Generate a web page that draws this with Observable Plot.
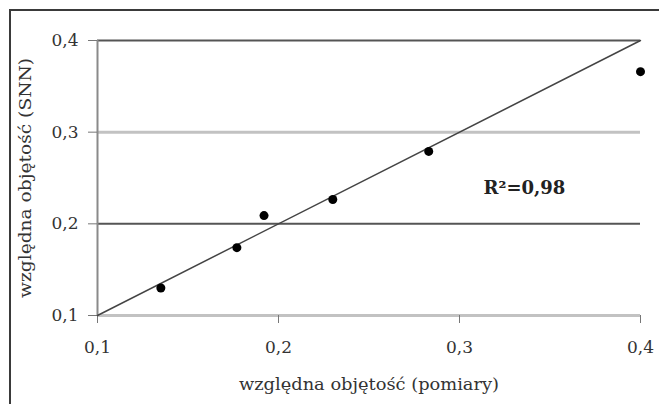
<!DOCTYPE html>
<html>
<head>
<meta charset="utf-8">
<script src="https://cdn.jsdelivr.net/npm/d3@7"></script>
<script src="https://cdn.jsdelivr.net/npm/@observablehq/plot@0.6"></script>
<style>
  html, body { margin: 0; padding: 0; background: #fff; overflow: hidden; }
  #wrap { position: relative; width: 659px; height: 404px; overflow: hidden; }
  #border { position: absolute; left: 9px; top: 9px; width: 700px; height: 500px; border: 2px solid #3a3a3a; box-sizing: border-box; pointer-events: none; }
  #chart { position: absolute; left: 0; top: 0; }
</style>
</head>
<body>
<div id="wrap"><div id="chart"></div><div id="border"></div></div>
<script>
// measured relative volume (x) vs. ANN-predicted relative volume (y)
const measured = [0.135, 0.177, 0.192, 0.230, 0.283, 0.400];
const predicted = [0.130, 0.174, 0.209, 0.2265, 0.279, 0.366];
// identity reference line
const refX = [0.1, 0.4];
const refY = [0.1, 0.4];
const tickValues = [0.1, 0.2, 0.3, 0.4];
const xLabel = "względna objętość (pomiary)";
const yLabel = "względna objętość (SNN)";
const r2Text = "R²=0,98";
const r2Pos = {x: 0.3133, y: 0.2385};

const points = measured.map((x, i) => ({x, y: predicted[i]}));
const refLine = refX.map((x, i) => ({x, y: refY[i]}));
const fmt = d => d.toFixed(1).replace(".", ",");

const chart = Plot.plot({
  width: 659,
  height: 404,
  marginLeft: 97,
  marginRight: 19,
  marginTop: 40,
  marginBottom: 89,
  style: {fontFamily: "'DejaVu Serif', 'Liberation Serif', serif", background: "transparent", color: "#333"},
  x: {domain: [0.1, 0.4]},
  y: {domain: [0.1, 0.4]},
  marks: [
    Plot.ruleY(tickValues, {
      stroke: d => (Math.round(d * 10) % 2 === 0 ? "#555" : "#c2c2c2"),
      strokeWidth: d => (Math.round(d * 10) % 2 === 0 ? 2 : 3)
    }),
    Plot.ruleX([0.1], {stroke: "#8a8a8a", strokeWidth: 2}),
    Plot.axisY({
      ticks: tickValues, tickFormat: fmt, tickSize: 9, tickPadding: 10,
      stroke: "#777", fontSize: 17, fill: "#333",
      label: yLabel, labelAnchor: "center", labelOffset: 78, labelArrow: "none"
    }),
    Plot.axisX({
      ticks: tickValues, tickFormat: fmt, tickSize: 8, tickPadding: 17,
      stroke: "#777", fontSize: 17, fill: "#333",
      label: xLabel, labelAnchor: "center", labelOffset: 74, labelArrow: "none"
    }),
    Plot.line(refLine, {x: "x", y: "y", stroke: "#444", strokeWidth: 1.5}),
    Plot.dot(points, {x: "x", y: "y", r: 4.5, fill: "#000", stroke: "none"}),
    Plot.text([r2Text], {
      x: () => r2Pos.x, y: () => r2Pos.y, text: d => d,
      textAnchor: "start", fontSize: 18, fontWeight: "bold", fill: "#222"
    })
  ]
});

document.getElementById("chart").appendChild(chart);

// Stretch axis label lengths to match the reference
d3.select(chart).selectAll('g[aria-label="x-axis label"] text').attr("textLength", 260).attr("lengthAdjust", "spacingAndGlyphs").style("font-size", "16px");
d3.select(chart).selectAll('g[aria-label="y-axis label"] text').attr("textLength", 240).attr("lengthAdjust", "spacingAndGlyphs").style("font-size", "16px");
</script>
</body>
</html>
